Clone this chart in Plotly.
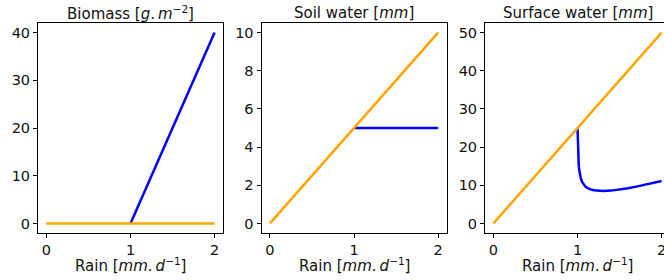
import plotly.graph_objects as go

# ---- data ----
rain = [0, 1, 2]
biomass_orange = [0, 0, 0]
biomass_blue_x = [1, 2]
biomass_blue_y = [0, 40]

soil_orange = [0, 5, 10]
soil_blue_x = [1, 2]
soil_blue_y = [5, 5]

surface_orange = [0, 25, 50]
surface_blue_x = [1.0, 1.002, 1.005, 1.009, 1.015, 1.022, 1.03, 1.04, 1.055, 1.07, 1.09, 1.11,
                  1.14, 1.17, 1.2, 1.25, 1.3, 1.4, 1.5, 1.6, 1.7, 1.8, 1.9, 2.0]
surface_blue_y = [25.0, 22.0, 19.5, 17.3, 15.3, 13.8, 12.7, 11.8, 10.9, 10.3, 9.75, 9.35,
                  9.0, 8.8, 8.68, 8.57, 8.52, 8.6, 8.85, 9.2, 9.65, 10.1, 10.6, 11.1]

titles = ["Biomass [<i>g</i>.\u2009<i>m</i><sup>\u22122</sup>]",
          "Soil water [<i>mm</i>]",
          "Surface water [<i>mm</i>]"]
xlabel = "Rain [<i>mm</i>.\u2009<i>d</i><sup>\u22121</sup>]"

BLUE = "#0000ff"
ORANGE = "#ffa500"
FONT = "DejaVu Sans"
TXT = "#111111"
W, H = 664, 280

# panel geometry in pixels
panel_w = 185
lefts = [38, 261.5, 485]
top_px, bot_px = 23, 233
ydom = [1 - bot_px / H, 1 - top_px / H]

fig = go.Figure()

def add(xs, ys, color, k):
    fig.add_trace(go.Scatter(x=xs, y=ys, mode="lines",
                             line=dict(color=color, width=2.5),
                             xaxis="x" if k == 1 else f"x{k}",
                             yaxis="y" if k == 1 else f"y{k}",
                             showlegend=False, hoverinfo="skip"))

add(biomass_blue_x, biomass_blue_y, BLUE, 1)
add(rain, biomass_orange, ORANGE, 1)
add(soil_blue_x, soil_blue_y, BLUE, 2)
add(rain, soil_orange, ORANGE, 2)
add(surface_blue_x, surface_blue_y, BLUE, 3)
add(rain, surface_orange, ORANGE, 3)

axis_common = dict(showgrid=False, zeroline=False, showline=True, linecolor="black",
                   linewidth=1, ticks="outside", ticklen=4, tickwidth=1, tickcolor="black",
                   tickfont=dict(family=FONT, size=14.5, color=TXT), automargin=False,
                   ticklabeloverflow="allow", showspikes=False)

yranges = [[-2, 42], [-0.5, 10.5], [-2.5, 52.5]]
ydticks = [10, 2, 10]
unit = panel_w / 2.2

layout = {}
for i in range(3):
    k = i + 1
    xs = "xaxis" if k == 1 else f"xaxis{k}"
    ys = "yaxis" if k == 1 else f"yaxis{k}"
    x0 = lefts[i] / W
    if k < 3:
        x1 = (lefts[i] + panel_w) / W
        xr = [-0.1, 2.1]
    else:
        x1 = 1.0
        xr = [-0.1, -0.1 + (W - lefts[i]) / unit]
    layout[xs] = dict(axis_common, domain=[x0, x1], range=xr, tickvals=[0, 1, 2],
                      mirror=True, anchor="y" if k == 1 else f"y{k}")
    layout[ys] = dict(axis_common, domain=ydom, range=yranges[i], dtick=ydticks[i],
                      tick0=0, mirror=(k < 3), anchor="x" if k == 1 else f"x{k}")

annotations = []
for i in range(3):
    cx = (lefts[i] + panel_w / 2) / W
    annotations.append(dict(text=titles[i], x=cx, y=1 - 13 / H, xref="paper", yref="paper",
                            xanchor="center", yanchor="middle", showarrow=False,
                            font=dict(family=FONT, size=15, color=TXT)))
    annotations.append(dict(text=xlabel, x=cx, y=1 - 265 / H, xref="paper", yref="paper",
                            xanchor="center", yanchor="middle", showarrow=False,
                            font=dict(family=FONT, size=15, color=TXT)))

fig.update_layout(width=W, height=H, margin=dict(l=0, r=0, t=0, b=0),
                  paper_bgcolor="white", plot_bgcolor="white", hovermode=False,
                  annotations=annotations, **layout)

fig.write_html("out.html", config={"displayModeBar": False, "staticPlot": True},
               post_script="document.body.style.margin='0';"
                           "document.body.style.overflow='hidden';"
                           "document.documentElement.style.overflow='hidden';")
